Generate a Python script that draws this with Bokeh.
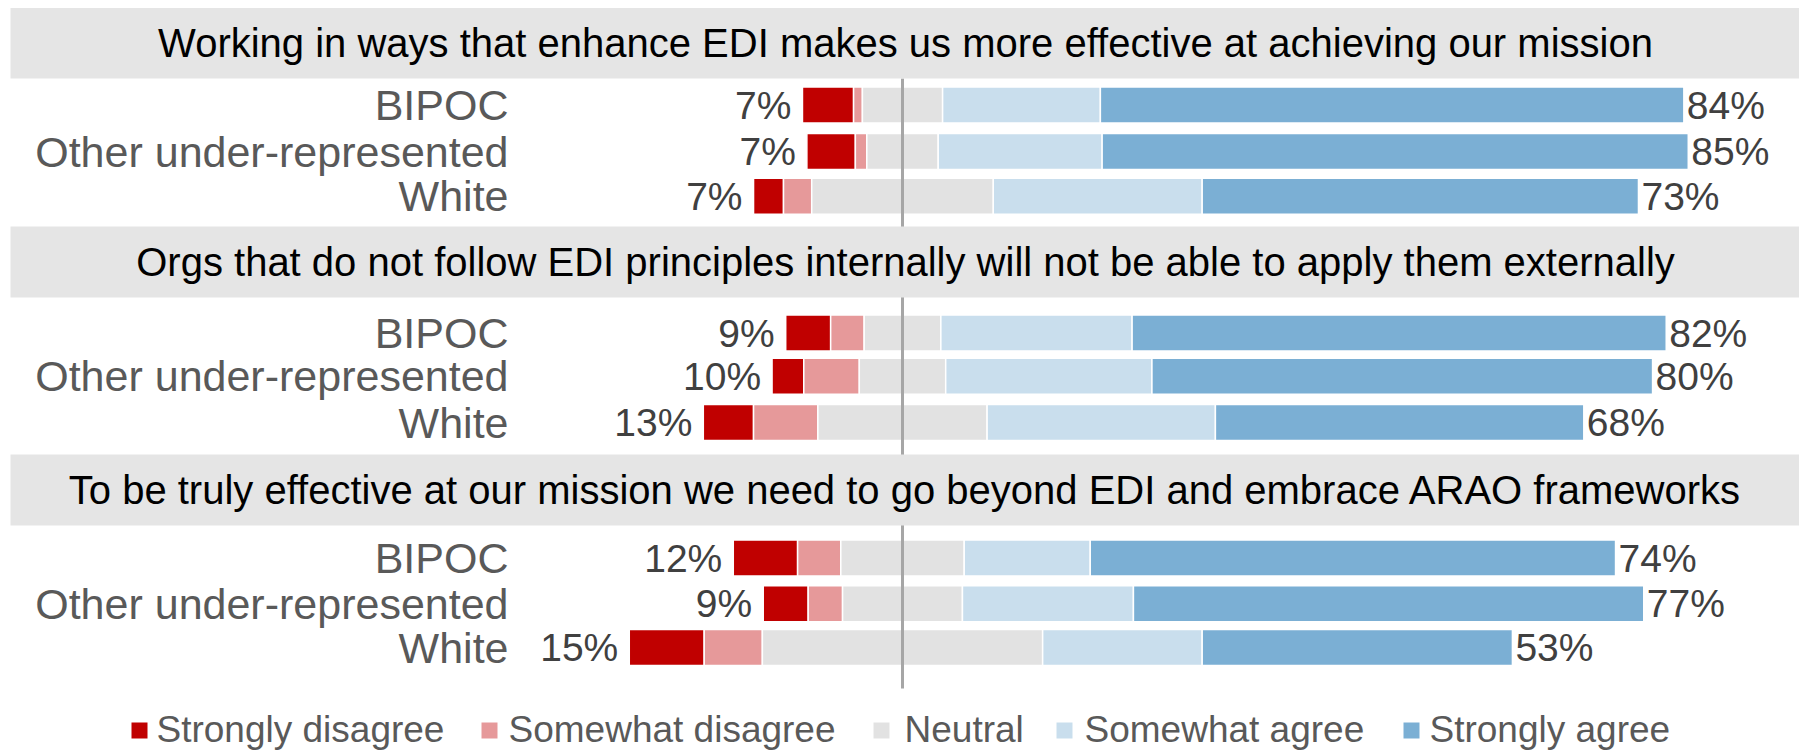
from bokeh.plotting import figure
from bokeh.models import Range1d, ColumnDataSource
from bokeh.core.properties import value
from bokeh.embed import file_html
from bokeh.resources import INLINE

# ---------------- data ----------------
questions = [
    "Working in ways that enhance EDI makes us more effective at achieving our mission",
    "Orgs that do not follow EDI principles internally will not be able to apply them externally",
    "To be truly effective at our mission we need to go beyond EDI and embrace ARAO frameworks",
]
groups = ["BIPOC", "Other under-represented", "White"]
responses = ["Strongly disagree", "Somewhat disagree", "Neutral", "Somewhat agree", "Strongly agree"]

# rows: Q1 (BIPOC, Other, White), Q2 (...), Q3 (...)
strongly_disagree = [5.8, 5.5, 3.4, 5.1, 3.6, 5.7, 7.3, 5.1, 8.5]
somewhat_disagree = [1.0, 1.3, 3.2, 3.8, 6.3, 7.3, 4.9, 3.9, 6.6]
neutral = [9.1, 8.1, 20.6, 8.7, 9.8, 19.2, 14.0, 13.6, 31.8]
somewhat_agree = [17.9, 18.6, 23.7, 21.7, 23.4, 25.9, 14.3, 19.4, 18.1]
strongly_agree = [66.2, 66.5, 49.5, 60.6, 56.8, 41.8, 59.6, 57.9, 35.2]
disagree_labels = ["7%", "7%", "7%", "9%", "10%", "13%", "12%", "9%", "15%"]
agree_labels = ["84%", "85%", "73%", "82%", "80%", "68%", "74%", "77%", "53%"]

colors = ["#c00000", "#e6999a", "#e2e2e2", "#c9deed", "#7bafd4"]

# ---------------- layout ----------------
W, H = 1799, 752
zero_px = 902.0
px_per_pct = 8.814


def px_to_x(px):
    return (px - zero_px) / px_per_pct


row_y = [[104.5, 151.0, 195.7], [332.5, 375.7, 422.0], [557.5, 603.3, 647.0]]
band_top = [7.5, 226.0, 454.0]
band_bottom = [78.0, 297.0, 525.0]
bar_h = 36
legend_sq_px = [139, 489, 881, 1064, 1411]
legend_txt_px = [156, 508, 904, 1084, 1429]
legend_y = 730
FONT = value("Liberation Sans")

p = figure(width=W, height=H, output_backend="svg", toolbar_location=None,
           x_range=Range1d(px_to_x(0), px_to_x(W)), y_range=Range1d(H, 0),
           x_axis_location=None, y_axis_location=None, min_border=0)
p.grid.visible = False
p.outline_line_color = None
p.background_fill_color = "white"

series = [strongly_disagree, somewhat_disagree, neutral, somewhat_agree, strongly_agree]
ys = [row_y[i // 3][i % 3] for i in range(9)]
starts = [-(strongly_disagree[i] + somewhat_disagree[i] + neutral[i] / 2.0) for i in range(9)]

cum = list(starts)
for j, s in enumerate(series):
    left = list(cum)
    right = [cum[i] + s[i] for i in range(9)]
    src = ColumnDataSource(dict(y=ys, left=left, right=right))
    p.hbar(y="y", left="left", right="right", height=bar_h, source=src,
           fill_color=colors[j], line_color="white", line_width=1.5)
    cum = right
ends = cum

# center line
p.segment(x0=[0], y0=[band_bottom[0]], x1=[0], y1=[688], line_color="#a6a6a6", line_width=3)

# header bands
p.quad(left=[px_to_x(10)] * 3, right=[px_to_x(W)] * 3, top=band_top, bottom=band_bottom,
       fill_color="#e5e5e5", line_color=None)
title_y = [(a + b) / 2 for a, b in zip(band_top, band_bottom)]
p.text(x=[px_to_x(905)] * 3, y=title_y, text=questions, text_align="center",
       text_baseline="middle", text_font=FONT, text_font_size="40px", text_color="#000000")

# category labels
p.text(x=[px_to_x(508)] * 9, y=ys, text=groups * 3, text_align="right",
       text_baseline="middle", text_font=FONT, text_font_size="43px", text_color="#595959")

# value labels
p.text(x=starts, y=ys, text=disagree_labels, text_align="right", x_offset=-11,
       text_baseline="middle", text_font=FONT, text_font_size="39px", text_color="#404040")
p.text(x=ends, y=ys, text=agree_labels, text_align="left", x_offset=3,
       text_baseline="middle", text_font=FONT, text_font_size="39px", text_color="#404040")

# legend
p.scatter(x=[px_to_x(v) for v in legend_sq_px], y=[legend_y] * 5, marker="square", size=16,
          fill_color=colors, line_color=None)
p.text(x=[px_to_x(v) for v in legend_txt_px], y=[legend_y - 1] * 5, text=responses, text_align="left",
       text_baseline="middle", text_font=FONT, text_font_size="37px", text_color="#595959")

open("out.html", "w").write(file_html(p, INLINE))
